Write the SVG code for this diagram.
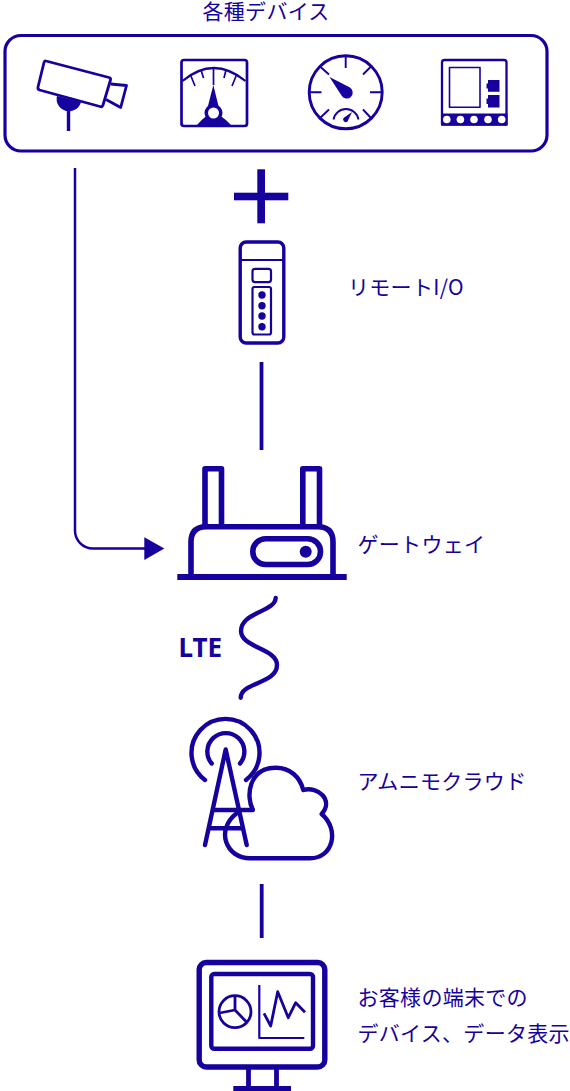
<svg xmlns="http://www.w3.org/2000/svg" width="570" height="1091" viewBox="0 0 570 1091">
<defs><style>
.s{fill:none;stroke:#16009e;stroke-linejoin:round}
.f{fill:#16009e}
.w{fill:#fff}
.t{font-family:"Noto Sans CJK JP","Noto Sans",sans-serif;font-size:21px;letter-spacing:.3px;fill:#16009e}
</style></defs>
<g id="devices-box"><rect class="s" x="5" y="35.500" width="542" height="115.500" rx="16" stroke-width="3.200"/></g>
<g id="devices-label"><text class="t" x="202.500" y="18.500">各種デバイス</text></g>
<g id="camera">
<path class="f" d="M57 96A12 12 0 0 0 81 102Z"/>
<rect class="f" x="66.800" y="106" width="3.400" height="25"/>
<path class="s" stroke-width="2.800" d="M46 61L109 77.500Q111 78 110.500 80L103 105Q102 107.500 100 106.500L39.500 90Q37.500 89 38 87L44 62.500Q44.500 60.500 46 61Z"/>
<path class="s" stroke-width="2.800" d="M110.700 84L126.500 85.500L120.700 107.500L106 99.500"/>
</g>
<g id="meter">
<rect class="s" stroke-width="2.700" x="181.500" y="60" width="65.500" height="66" rx="2.500"/>
<path class="s" stroke-width="2.200" d="M182.500 81Q213.500 55 245.500 81"/>
<path class="s" stroke-width="1.700" d="M213.500 68V85M201 70L203.500 78M226 70L224 78M190.500 75L195 86M236.500 75L232 86"/>
<path class="f" d="M213.300 85L219.500 110H207Z"/>
<path class="f" d="M196.500 125.500Q206 114 213.500 114Q221 114 231.500 125.500Z"/>
<circle class="f" cx="213.500" cy="113" r="9"/>
<circle class="w" cx="213.500" cy="113" r="5.500"/>
</g>
<g id="gauge">
<circle class="s" stroke-width="2.900" cx="345.700" cy="92.300" r="36.500"/>
<path class="s" stroke-width="1.900" d="M345.700 57V68M309.500 92.300H321.500M370 92.300H382M320 66.500L329 74.500M371 66.500L363 74.500M320 118L329 109.500M371 118L363 109.500"/>
<path class="f" d="M329.500 77L350 87.500A6 6 0 1 1 341.500 95.500Z"/>
<path class="s" stroke-width="1.900" d="M333.500 119.500A12.700 12.700 0 0 1 358.500 119.500"/>
<path class="f" d="M352 112L347.500 121.500A2.700 2.700 0 0 1 343.500 118Z"/>
</g>
<g id="device">
<path class="s" stroke-width="2.300" d="M442 124.500V62.500Q442 60 444.500 60H504Q506.500 60 506.500 62.500V124.500Z"/>
<rect class="s" stroke-width="1.600" x="449.500" y="67.500" width="30.500" height="39.700"/>
<path class="f" d="M488 80H499.500V91.700H488V88.500H486.500V83.500H488ZM488 95H499.500V107.500H488V104H486.500V98.500H488Z"/>
<rect class="f" x="441" y="113.500" width="66.500" height="12"/>
<g class="w"><circle cx="446.800" cy="119.500" r="3.800"/><circle cx="460.400" cy="119.500" r="3.800"/><circle cx="474" cy="119.500" r="3.800"/><circle cx="488" cy="119.500" r="3.800"/><circle cx="501.700" cy="119.500" r="3.800"/></g>
</g>
<g id="plus"><rect class="f" x="234" y="192.700" width="54.300" height="7.600"/><rect class="f" x="257.300" y="169.300" width="7.700" height="54"/></g>
<g id="remote-io">
<rect class="s" stroke-width="3.400" x="240.200" y="242" width="43.600" height="101" rx="6"/>
<path class="s" stroke-width="2" d="M240 260H283.800"/>
<rect class="s" stroke-width="2.200" x="252.500" y="268.800" width="18.500" height="13.300" rx="2.500"/>
<rect class="s" stroke-width="2.200" x="252.500" y="287" width="18.500" height="47.500" rx="2"/>
<circle class="f" cx="262" cy="295" r="3.700"/><circle class="f" cx="262" cy="305.700" r="3.700"/><circle class="f" cx="262" cy="316" r="3.700"/><circle class="f" cx="262" cy="326.700" r="3.700"/>
<text class="t" x="348" y="294.500">リモートI/O</text>
</g>
<g id="gateway">
<path class="s" stroke-width="5.600" d="M205 526V468.800H221.500V526M302.800 526V468.800H319.500V526"/>
<path class="s" stroke-width="5.600" d="M191 575V542Q191 527 206 526.800H318Q333 527 333 542V575"/>
<rect class="f" x="177.300" y="574" width="169.400" height="6"/>
<rect class="s" stroke-width="5.600" x="252.800" y="538.800" width="67.700" height="25.700" rx="12.800"/>
<circle class="f" cx="305.700" cy="551.700" r="6"/>
<text class="t" x="357.500" y="551.500">ゲートウェイ</text>
</g>
<g id="wireless"><text x="178.500" y="657" font-family="'Noto Sans',sans-serif" font-weight="700" font-size="26" fill="#16009e">LTE</text></g>
<g id="cloud">
<path class="s" stroke-width="4.400" stroke-linecap="round" d="M205 780A34 34 0 1 1 246 780M211.700 763.500A18.500 18.500 0 1 1 240 763.500"/>
<path class="s" stroke-width="4.400" stroke-linecap="round" d="M205 845L225.700 749.500L246.700 845M214.500 810H252.700M210.700 828.300H242.700"/>
<path class="s" stroke-width="4.400" stroke-linecap="round" d="M252.700 809.500C246 797 248 767.700 276 767.700C290 767.700 300 777 303.300 790C318 786 334 800 321.700 814C340 830 333 858.300 310 858.300H250C226 858.300 215 830 236.700 813.300"/>
<text class="t" x="357.500" y="788.500">アムニモクラウド</text>
</g>
<g id="monitor">
<rect class="s" stroke-width="5.400" x="199.200" y="962.500" width="125.600" height="104.500" rx="7"/>
<rect class="s" stroke-width="4.400" x="211.300" y="974" width="101.700" height="74.700" rx="3"/>
<path class="s" stroke-width="4.800" d="M248.500 1067V1087M276.500 1067V1087"/>
<rect class="f" x="233.300" y="1086" width="57.700" height="5"/>
<circle class="s" stroke-width="2.800" cx="235" cy="1011.700" r="16"/>
<path class="s" stroke-width="2.800" d="M235 996V1010L219.500 1013M235 1010L246.500 1022"/>
<path class="s" stroke-width="2.200" d="M259.300 985V1038H304.300"/>
<path class="s" stroke-width="2.800" d="M264 1013.300L270.700 1026L277.700 991.700L288.300 1017.700L295.700 1002.700L305 1012.300"/>
<text class="t" x="357.500" y="1004.500">お客様の端末での</text>
<text class="t" x="357.500" y="1040.500">デバイス、データ表示</text>
</g>
<g id="connectors">
<path class="s" stroke-width="2.500" d="M75 168V530A18 18 0 0 0 93 548.500H146"/>
<path class="f" d="M144.300 537.300L164.300 548.500L144.300 560Z"/>
<path class="s" stroke-width="3.800" d="M261.500 362V450"/>
<path class="s" stroke-width="4.400" stroke-linecap="round" d="M275.700 598C275 612 241 612 241 631C241 648 277 648 277 665C277 684 241 682 240.700 697.700"/>
<path class="s" stroke-width="3.800" d="M261.700 884V938"/>
</g>
</svg>
